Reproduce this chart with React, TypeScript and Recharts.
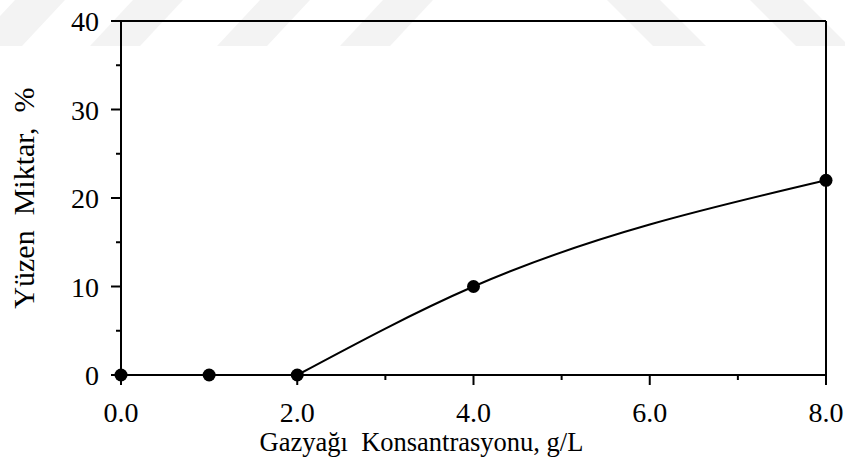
import { LineChart, Line, XAxis, YAxis, ReferenceLine } from "recharts";

const concentration = [0, 1, 2, 4, 8];
const floated = [0, 0, 0, 10, 22];
// fitted curve only runs from 2 g/L upward
const fitted: (number | null)[] = [null, null, 0, 10, 22];

const xTicks = [0, 1, 2, 3, 4, 5, 6, 7, 8];
const yTicks = [0, 5, 10, 15, 20, 25, 30, 35, 40];

const rows = concentration.map((c, i) => ({ conc: c, floated: floated[i], fitted: fitted[i] }));

const FONT = "'Liberation Serif', 'Times New Roman', serif";

// faint diagonal stripes of the page watermark
const leftStripes = [15, 133, 260, 383];
const rightStripes = [607, 750];

function XTick({ x, y, payload }: any) {
  const major = payload.value % 2 === 0;
  return (
    <g>
      <line x1={x} x2={x} y1={y} y2={y + (major ? 10 : 5)} stroke="#000" strokeWidth={2} />
      {major && (
        <text x={x} y={y + 47} textAnchor="middle" fontSize={28} fontFamily={FONT} fill="#000">
          {payload.value.toFixed(1)}
        </text>
      )}
    </g>
  );
}

function YTick({ x, y, payload }: any) {
  const major = payload.value % 10 === 0;
  return (
    <g>
      <line x1={x} x2={x - (major ? 10 : 5)} y1={y} y2={y} stroke="#000" strokeWidth={2} />
      {major && (
        <text x={x - 22} y={y + 10} textAnchor="end" fontSize={28} fontFamily={FONT} fill="#000">
          {payload.value}
        </text>
      )}
    </g>
  );
}

export default function App() {
  return (
    <div style={{ position: "absolute", left: 0, top: 0, width: 845, height: 463, background: "#fff" }}>
      <svg width={845} height={60} style={{ position: "absolute", left: 0, top: 0 }}>
        {leftStripes.map((a) => (
          <polygon key={a} points={`${a},0 ${a + 50},0 ${a + 7},46 ${a - 43},46`} fill="#f3f3f3" />
        ))}
        {rightStripes.map((b) => (
          <polygon key={b} points={`${b},0 ${b + 53},0 ${b + 99},46 ${b + 46},46`} fill="#f3f3f3" />
        ))}
      </svg>
      <div style={{ position: "absolute", left: 0, top: 0 }}>
        <LineChart width={845} height={463} data={rows} margin={{ top: 21, right: 19, left: 0, bottom: 0 }}>
          <XAxis
            type="number"
            dataKey="conc"
            domain={[0, 8]}
            ticks={xTicks}
            interval={0}
            height={88}
            tickLine={false}
            tickSize={0}
            tickMargin={0}
            tick={<XTick />}
            axisLine={{ stroke: "#000", strokeWidth: 2 }}
            label={{
              value: "Gazyağı\u00A0 Konsantrasyonu, g/L",
              position: "insideBottom",
              offset: 12,
              dx: -52,
              fontSize: 26.5,
              fontFamily: FONT,
              fill: "#000",
            }}
          />
          <YAxis
            type="number"
            domain={[0, 40]}
            ticks={yTicks}
            interval={0}
            width={121}
            tickLine={false}
            tickSize={0}
            tickMargin={0}
            tick={<YTick />}
            axisLine={{ stroke: "#000", strokeWidth: 2 }}
            label={{
              value: "Yüzen\u00A0 Miktar,\u00A0 %",
              angle: -90,
              position: "center",
              dx: -37,
              fontSize: 30,
              fontFamily: FONT,
              fill: "#000",
            }}
          />
          <ReferenceLine y={40} stroke="#000" strokeWidth={2} />
          <ReferenceLine x={8} stroke="#000" strokeWidth={2} />
          <Line
            type="monotone"
            dataKey="fitted"
            stroke="#000"
            strokeWidth={2}
            dot={false}
            isAnimationActive={false}
          />
          <Line
            dataKey="floated"
            stroke="none"
            dot={{ r: 6.5, fill: "#000", stroke: "none" }}
            activeDot={false}
            isAnimationActive={false}
          />
        </LineChart>
      </div>
    </div>
  );
}
